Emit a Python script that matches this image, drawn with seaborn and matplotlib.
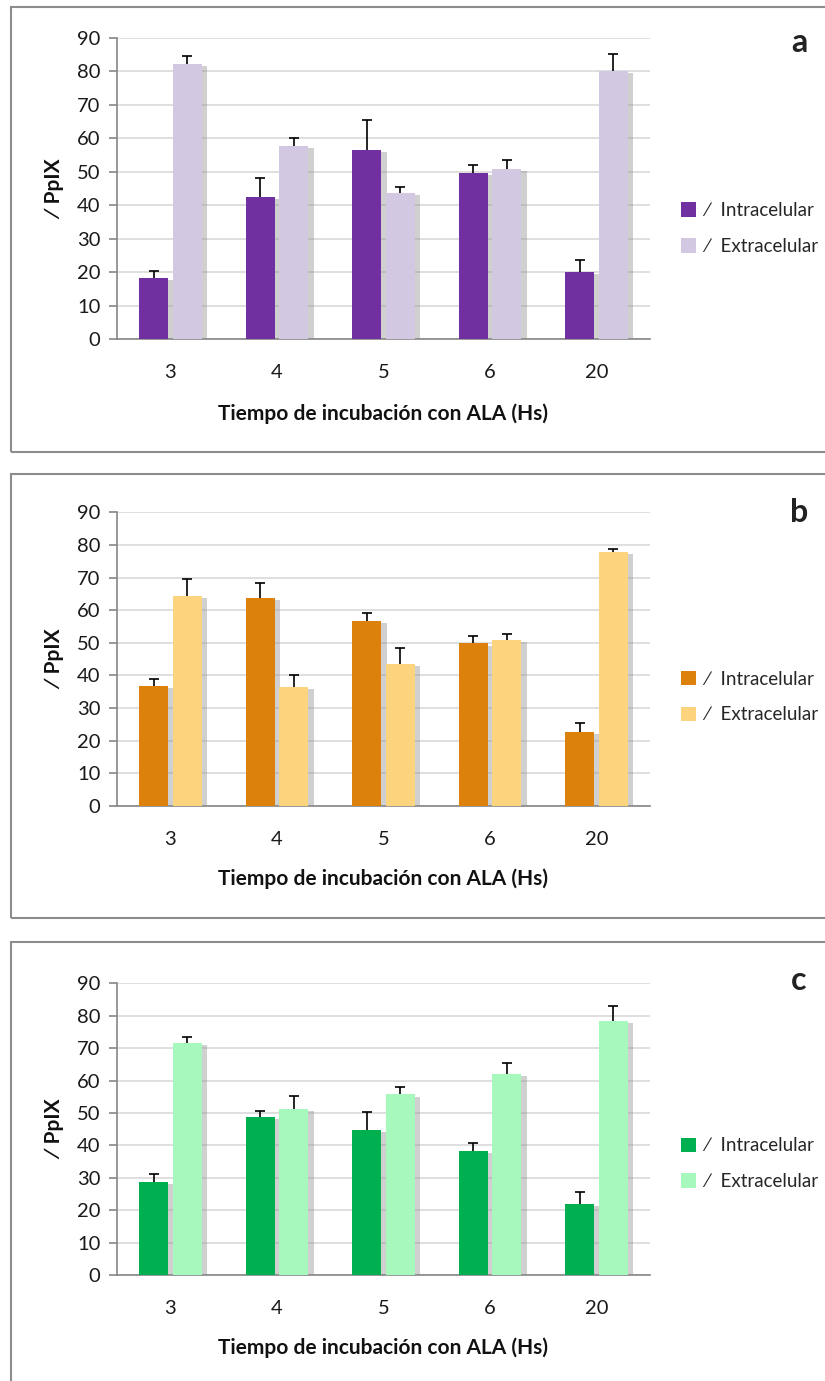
import numpy as np
import pandas as pd
import matplotlib
matplotlib.use('Agg')
import matplotlib.pyplot as plt
import matplotlib.patheffects as pe
from matplotlib.patches import Rectangle, Patch
from matplotlib.ticker import FixedLocator
import seaborn as sns

# datos (tiempo de incubacion con ALA, Hs)
tiempos = ['3', '4', '5', '6', '20']
series = ['Intracelular', 'Extracelular']

intra_a = [18.4, 42.4, 56.4, 49.6, 20.1]
err_intra_a = [2.1, 5.8, 9.0, 2.3, 3.7]
extra_a = [82.1, 57.8, 43.6, 50.7, 80.2]
err_extra_a = [2.4, 2.3, 1.9, 2.9, 4.8]

intra_b = [36.7, 63.8, 56.7, 49.8, 22.8]
err_intra_b = [2.3, 4.5, 2.3, 2.2, 2.7]
extra_b = [64.3, 36.4, 43.6, 51.0, 77.8]
err_extra_b = [5.3, 3.6, 4.7, 1.6, 1.1]

intra_c = [28.8, 48.9, 44.8, 38.2, 21.9]
err_intra_c = [2.3, 1.7, 5.4, 2.6, 3.7]
extra_c = [71.5, 51.3, 55.7, 62.1, 78.5]
err_extra_c = [1.9, 3.9, 2.3, 3.2, 4.5]

colores_a = ['#7030A0', '#D3C8E2']
colores_b = ['#DC820C', '#FDD47E']
colores_c = ['#00B050', '#A6F8BC']

sns.set_style('white')
plt.rcParams['font.family'] = ['Lato', 'DejaVu Sans']
plt.rcParams['font.size'] = 14

W, H = 825, 1381
fig = plt.figure(figsize=(W / 100, H / 100), dpi=100)

# cajas grises alrededor de cada panel (en pixeles: x0, top, bottom)
cajas = [(10.5, 7.3, 451.7), (10.5, 474, 918.3), (10.5, 941.7, 1400)]
for x0, top, bottom in cajas:
    fig.add_artist(Rectangle((x0 / W, 1 - bottom / H), 1.0, (bottom - top) / H,
                             transform=fig.transFigure, fill=False,
                             edgecolor='#8C8C8C', linewidth=1.5))

# ejes: (top px, bottom px) del rango 0-90
ejes_px = [(37.7, 339.3), (512.3, 806.0), (983.3, 1275.0)]
paneles = [
    ('a', intra_a, err_intra_a, extra_a, err_extra_a, colores_a, 228.5, 42),
    ('b', intra_b, err_intra_b, extra_b, err_extra_b, colores_b, 697.0, 512),
    ('c', intra_c, err_intra_c, extra_c, err_extra_c, colores_c, 1163.7, 980),
]

left, right = 117 / W, 650 / W
for (letra, intra, e_in, extra, e_ex, cols, ley_y, letra_y), (top, bottom) in zip(paneles, ejes_px):
    ax = fig.add_axes([left, 1 - bottom / H, right - left, (bottom - top) / H])
    df = pd.DataFrame({
        'tiempo': tiempos * 2,
        'valor': intra + extra,
        'serie': [series[0]] * 5 + [series[1]] * 5,
    })
    sns.barplot(data=df, x='tiempo', y='valor', hue='serie', order=tiempos,
                hue_order=series, palette=cols, saturation=1, errorbar=None,
                width=0.63, gap=0.14, linewidth=0, ax=ax, zorder=3)

    for cont, errs in zip(ax.containers, [e_in, e_ex]):
        xs = [b.get_x() + b.get_width() / 2 for b in cont]
        ys = [b.get_height() for b in cont]
        for b in cont:
            b.set_path_effects([pe.SimplePatchShadow(offset=(4, -1.5), shadow_rgbFace='#8a8a8a', alpha=0.4),
                                pe.Normal()])
        _, caps, _ = ax.errorbar(xs, ys, yerr=[np.zeros(len(errs)), errs], fmt='none',
                                 ecolor='black', elinewidth=1.2, capsize=3.6, capthick=1.2, zorder=4)
        caps[0].set_visible(False)  # solo la barra superior

    ax.set_xlim(-0.5, 4.5)
    ax.set_ylim(0, 90)
    ax.set_yticks(range(0, 91, 10))
    ax.yaxis.grid(True, color='#D9D9D9', linewidth=1.2)
    ax.set_axisbelow(True)
    for s in ['top', 'right']:
        ax.spines[s].set_visible(False)
    for s in ['left', 'bottom']:
        ax.spines[s].set_color('#868686')
        ax.spines[s].set_linewidth(1.2)

    ax.xaxis.set_minor_locator(FixedLocator(np.arange(-0.5, 4.6, 1)))
    ax.tick_params(axis='x', which='major', length=0, pad=18, labelsize=14.5, labelcolor='#1a1a1a')
    ax.tick_params(axis='x', which='minor', length=6, width=1.2, color='#868686', direction='out')
    ax.tick_params(axis='y', length=6, width=1.2, color='#868686', direction='out', left=True,
                   pad=6, labelsize=14.5, labelcolor='#1a1a1a')

    ax.set_xlabel('Tiempo de incubación con ALA (Hs)', fontsize=15, fontweight='bold', color='#111111')
    ax.xaxis.set_label_coords(0.5, -(414 - 339.3) / 301.6)
    ax.xaxis.label.set_verticalalignment('center')
    ax.set_ylabel('∕ PpIX', fontsize=15, fontweight='bold', color='#111111')
    ax.yaxis.set_label_coords(-0.118, 0.5)
    ax.yaxis.label.set_verticalalignment('center')

    ax.get_legend().remove()
    handles = [Patch(facecolor=c, edgecolor='none') for c in cols]
    ax.legend(handles, ['∕  ' + s for s in series], loc='center left',
              bbox_to_anchor=(681 / W, 1 - ley_y / H), bbox_transform=fig.transFigure,
              frameon=False, fontsize=13.5, handlelength=0.8, handleheight=0.8,
              handletextpad=0.3, labelspacing=1.0, borderpad=0, borderaxespad=0)

    fig.text(799 / W, 1 - letra_y / H, letra,
             fontsize=23, fontweight='bold', color='#222222', ha='center', va='center')

fig.savefig('out.png', dpi=100)
